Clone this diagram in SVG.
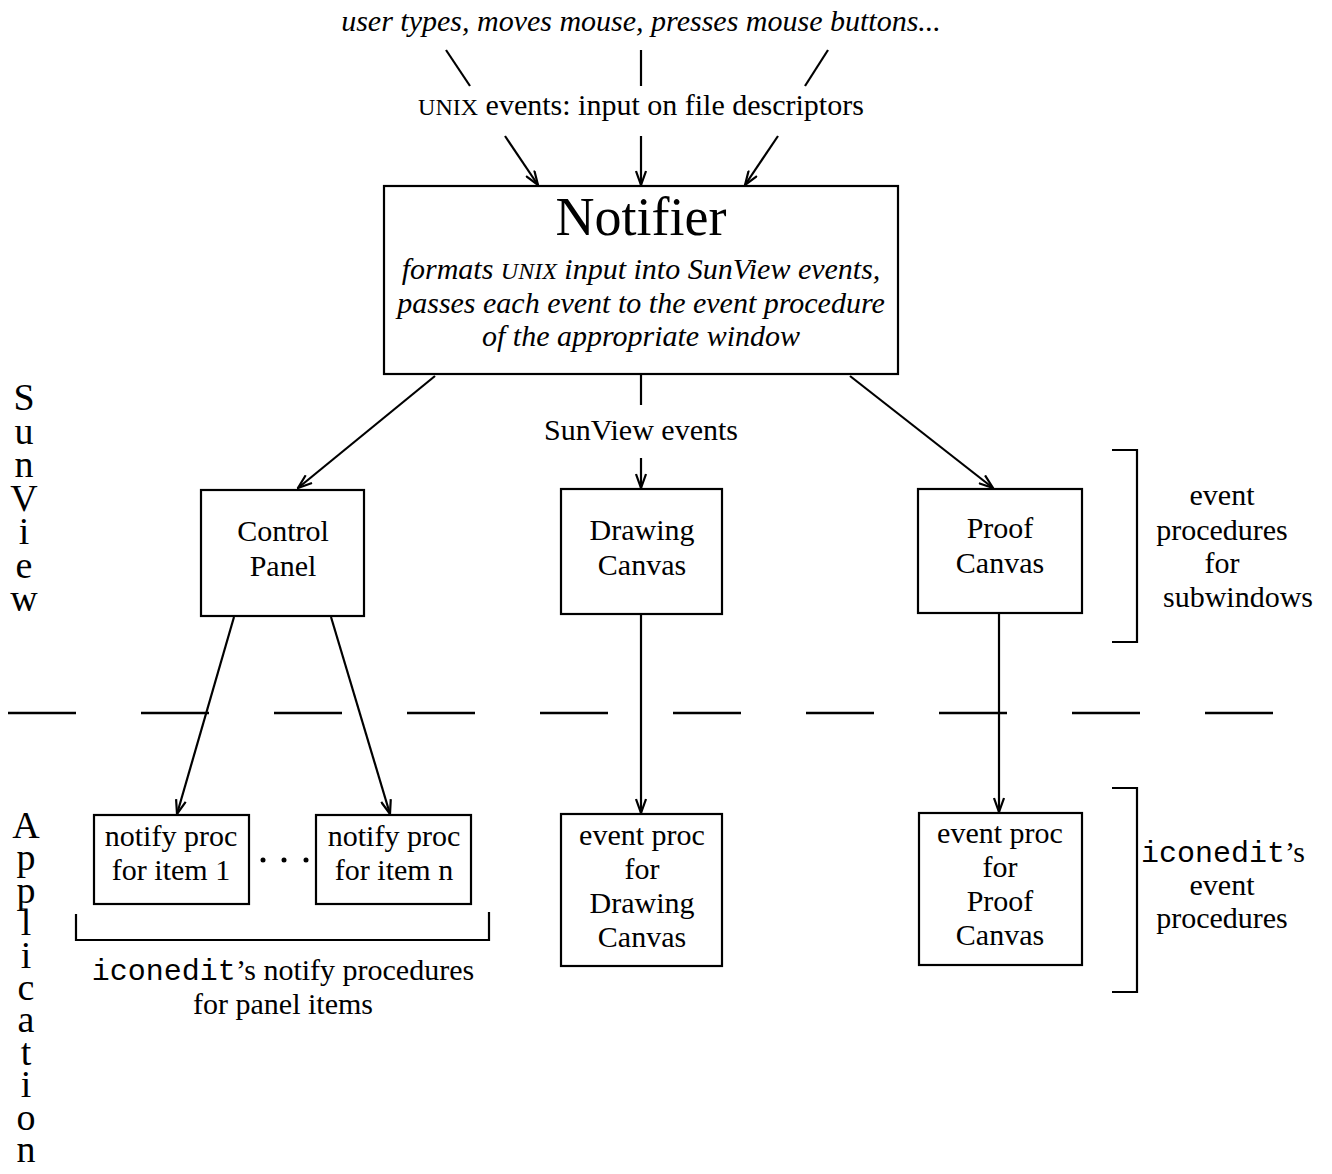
<svg xmlns="http://www.w3.org/2000/svg" width="1332" height="1174" viewBox="0 0 1332 1174">
<style>
text{font-family:"Liberation Serif","Times New Roman",serif;fill:#000}
.b{font-size:30px;text-anchor:middle}
.it{font-style:italic;font-size:30px;text-anchor:middle}
.mono{font-family:"Liberation Mono","Courier New",monospace;font-size:30px}
.sc{font-size:24px}
.vert{font-size:38px;writing-mode:vertical-rl;text-orientation:upright}
.box{fill:#fff;stroke:#000;stroke-width:2.2}
.ln{stroke:#000;stroke-width:2.2;fill:none}
.arr{stroke:#000;stroke-width:2.2;fill:none;marker-end:url(#ah)}
</style>
<defs>
<marker id="ah" markerUnits="userSpaceOnUse" viewBox="0 0 16 12" refX="15" refY="6" markerWidth="16" markerHeight="12" orient="auto">
<path d="M1,1 L15,6 L1,11" fill="none" stroke="#000" stroke-width="2.2"/>
</marker>
</defs>
<rect width="1332" height="1174" fill="#fff"/>

<g id="top-label">
<text class="it" x="641" y="31">user types, moves mouse, presses mouse buttons...</text>
<text class="b" x="641" y="115"><tspan class="sc">UNIX</tspan> events: input on file descriptors</text>
</g>

<g id="side-labels">
<text class="vert" x="24" y="376" letter-spacing="-8.5">SunView</text>
<text class="vert" x="26" y="804" letter-spacing="-9.6">Application</text>
</g>

<g id="connectors">
<line class="ln" x1="446" y1="50" x2="470" y2="86"/>
<line class="ln" x1="641" y1="50" x2="641" y2="86"/>
<line class="ln" x1="828" y1="50" x2="805" y2="86"/>
<line class="arr" x1="505" y1="136" x2="538" y2="185"/>
<line class="arr" x1="641" y1="136" x2="641" y2="185"/>
<line class="arr" x1="778" y1="136" x2="745" y2="185"/>
<line class="arr" x1="435" y1="376" x2="298" y2="488"/>
<line class="ln" x1="641" y1="375" x2="641" y2="405"/>
<line class="arr" x1="641" y1="458" x2="641" y2="488"/>
<line class="arr" x1="850" y1="376" x2="993" y2="488"/>
<line class="arr" x1="234" y1="617" x2="177" y2="814"/>
<line class="arr" x1="331" y1="617" x2="390" y2="814"/>
<line class="arr" x1="641" y1="615" x2="641" y2="813"/>
<line class="arr" x1="999" y1="614" x2="999" y2="812"/>
<path class="ln" d="M1112,450 H1137 V642 H1112"/>
<path class="ln" d="M1112,788 H1137 V992 H1112"/>
<path class="ln" d="M76,914 V940 H489 V912"/>
<line x1="8" y1="713" x2="1275" y2="713" stroke="#000" stroke-width="2.5" stroke-dasharray="68 65"/>
</g>

<g id="notifier">
<rect class="box" x="384" y="186" width="514" height="188"/>
<text class="b" x="641" y="235" style="font-size:54px">Notifier</text>
<text class="it" x="641" y="279">formats <tspan class="sc">UNIX</tspan> input into SunView events,</text>
<text class="it" x="641" y="313">passes each event to the event procedure</text>
<text class="it" x="641" y="346">of the appropriate window</text>
</g>
<g id="sunview-events-label">
<text class="b" x="641" y="440">SunView events</text>
</g>

<g id="control-panel">
<rect class="box" x="201" y="490" width="163" height="126"/>
<text class="b" x="283" y="541">Control</text>
<text class="b" x="283" y="576">Panel</text>
</g>
<g id="drawing-canvas">
<rect class="box" x="561" y="489" width="161" height="125"/>
<text class="b" x="642" y="540">Drawing</text>
<text class="b" x="642" y="575">Canvas</text>
</g>
<g id="proof-canvas">
<rect class="box" x="918" y="489" width="164" height="124"/>
<text class="b" x="1000" y="538">Proof</text>
<text class="b" x="1000" y="573">Canvas</text>
</g>
<g id="subwindows-label">
<text class="b" x="1222" y="505">event</text>
<text class="b" x="1222" y="540">procedures</text>
<text class="b" x="1222" y="573">for</text>
<text class="b" x="1238" y="607">subwindows</text>
</g>

<g id="notify-item-1">
<rect class="box" x="94" y="815" width="155" height="89"/>
<text class="b" x="171" y="846">notify proc</text>
<text class="b" x="171" y="880">for item 1</text>
</g>
<g id="ellipsis">
<circle cx="263" cy="860" r="2.5"/>
<circle cx="284" cy="860" r="2.5"/>
<circle cx="306" cy="860" r="2.5"/>
</g>
<g id="notify-item-n">
<rect class="box" x="316" y="815" width="155" height="89"/>
<text class="b" x="394" y="846">notify proc</text>
<text class="b" x="394" y="880">for item n</text>
</g>
<g id="notify-label">
<text class="b" x="283" y="980"><tspan class="mono">iconedit</tspan>’s notify procedures</text>
<text class="b" x="283" y="1014">for panel items</text>
</g>

<g id="event-proc-drawing">
<rect class="box" x="561" y="814" width="161" height="152"/>
<text class="b" x="642" y="845">event proc</text>
<text class="b" x="642" y="879">for</text>
<text class="b" x="642" y="913">Drawing</text>
<text class="b" x="642" y="947">Canvas</text>
</g>
<g id="event-proc-proof">
<rect class="box" x="919" y="813" width="163" height="152"/>
<text class="b" x="1000" y="843">event proc</text>
<text class="b" x="1000" y="877">for</text>
<text class="b" x="1000" y="911">Proof</text>
<text class="b" x="1000" y="945">Canvas</text>
</g>
<g id="event-procs-label">
<text x="1141" y="862" style="font-size:30px"><tspan class="mono">iconedit</tspan>’s</text>
<text class="b" x="1222" y="895">event</text>
<text class="b" x="1222" y="928">procedures</text>
</g>
</svg>
